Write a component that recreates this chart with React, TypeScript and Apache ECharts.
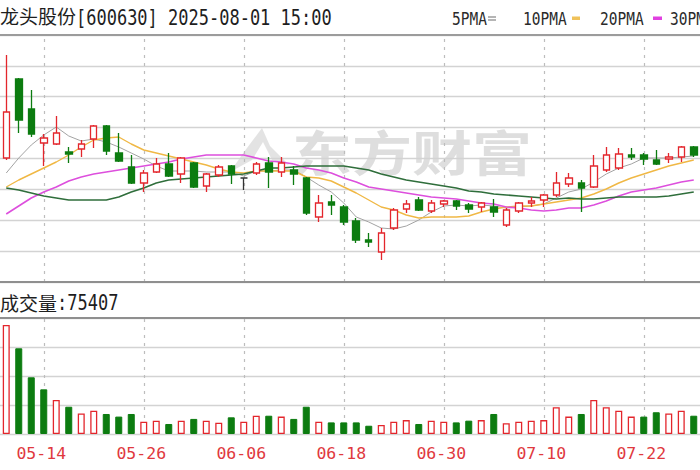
import React, { useEffect, useRef } from 'react';
import * as echarts from 'echarts';

const dates = ['05-09','05-12','05-13','05-14','05-15','05-16','05-19','05-20','05-21','05-22','05-23','05-26','05-27','05-28','05-29','05-30','06-03','06-04','06-05','06-06','06-09','06-10','06-11','06-12','06-13','06-16','06-17','06-18','06-19','06-20','06-23','06-24','06-25','06-26','06-27','06-30','07-01','07-02','07-03','07-04','07-07','07-08','07-09','07-10','07-11','07-14','07-15','07-16','07-17','07-18','07-21','07-22','07-23','07-24','07-25','07-28'];

const openP = [6.18,6.97,6.67,6.33,6.32,6.24,6.27,6.37,6.50,6.23,6.09,5.93,6.04,6.12,6.02,6.13,5.90,6.01,6.10,5.98,6.03,6.13,6.04,6.06,5.98,5.59,5.74,5.69,5.55,5.36,5.24,5.48,5.67,5.76,5.65,5.72,5.75,5.71,5.69,5.69,5.51,5.65,5.73,5.76,5.81,5.92,5.93,5.89,6.06,6.08,6.21,6.21,6.16,6.17,6.19,6.29];
const closeP = [6.64,6.56,6.42,6.38,6.43,6.22,6.32,6.50,6.25,6.15,5.93,6.03,6.12,6.00,6.18,5.89,6.02,6.09,6.02,5.98,6.12,6.04,6.13,6.02,5.63,5.73,5.71,5.54,5.36,5.34,5.43,5.66,5.72,5.66,5.73,5.75,5.70,5.67,5.73,5.64,5.66,5.73,5.75,5.81,5.93,5.98,5.88,6.10,6.21,6.22,6.19,6.17,6.12,6.19,6.29,6.21];
const lowP = [6.16,6.43,6.39,6.10,6.31,6.13,6.19,6.28,6.21,6.14,5.92,5.84,6.03,5.99,5.93,5.88,5.84,5.99,5.92,5.86,6.01,5.88,5.99,5.91,5.61,5.54,5.61,5.51,5.33,5.29,5.16,5.46,5.63,5.65,5.63,5.69,5.66,5.63,5.64,5.59,5.49,5.63,5.69,5.69,5.79,5.89,5.64,5.88,6.04,6.06,6.16,6.11,6.11,6.13,6.14,6.19];
const highP = [7.21,6.98,6.86,6.42,6.60,6.29,6.36,6.51,6.51,6.43,6.21,6.06,6.18,6.23,6.19,6.14,6.03,6.11,6.11,5.98,6.14,6.19,6.19,6.10,5.99,5.81,5.81,5.71,5.58,5.43,5.48,5.68,5.76,5.79,5.76,5.76,5.76,5.73,5.74,5.77,5.68,5.74,5.79,5.82,6.04,6.03,5.96,6.21,6.29,6.28,6.28,6.23,6.26,6.23,6.30,6.30];

const ma5 = [6.03,6.18,6.31,6.41,6.49,6.40,6.35,6.37,6.34,6.29,6.23,6.17,6.10,6.05,6.05,6.05,6.04,6.04,6.04,6.00,6.05,6.05,6.06,6.06,5.99,5.91,5.84,5.73,5.59,5.54,5.48,5.47,5.50,5.56,5.64,5.70,5.71,5.70,5.71,5.70,5.68,5.69,5.70,5.72,5.78,5.84,5.87,5.94,6.02,6.08,6.12,6.18,6.18,6.18,6.19,6.20];
const ma10 = [5.89,5.96,6.02,6.08,6.14,6.21,6.29,6.36,6.38,6.39,6.32,6.26,6.23,6.20,6.17,6.14,6.11,6.07,6.04,6.03,6.05,6.05,6.05,6.05,5.99,5.98,5.95,5.89,5.83,5.76,5.69,5.66,5.61,5.58,5.59,5.59,5.59,5.60,5.64,5.67,5.69,5.70,5.70,5.72,5.74,5.76,5.78,5.82,5.87,5.93,5.98,6.02,6.06,6.10,6.13,6.16];
const ma20 = [5.62,5.70,5.78,5.84,5.89,5.95,5.99,6.02,6.04,6.06,6.08,6.10,6.12,6.14,6.17,6.19,6.21,6.21,6.21,6.21,6.18,6.15,6.14,6.12,6.08,6.06,6.03,5.98,5.94,5.89,5.87,5.85,5.83,5.81,5.79,5.78,5.77,5.75,5.73,5.72,5.69,5.68,5.66,5.65,5.66,5.68,5.68,5.71,5.75,5.80,5.84,5.86,5.88,5.91,5.94,5.96];
const ma30 = [5.88,5.86,5.83,5.80,5.78,5.76,5.76,5.76,5.76,5.79,5.84,5.88,5.93,5.96,5.97,5.98,5.99,6.00,6.01,6.02,6.05,6.08,6.08,6.09,6.10,6.10,6.10,6.10,6.08,6.06,6.02,5.99,5.96,5.94,5.92,5.90,5.88,5.85,5.84,5.82,5.81,5.80,5.79,5.78,5.77,5.78,5.77,5.77,5.78,5.79,5.79,5.79,5.79,5.80,5.82,5.84];

const volume = [376000,295500,195500,154000,117000,94000,71000,80000,69000,60000,69000,42000,46000,34500,46000,52000,46000,39000,57500,42500,63000,63000,60000,52000,94000,42500,40000,40000,40000,28500,31000,42500,48000,34500,46000,42500,40000,46000,48000,69000,37000,42500,46000,48000,92000,60000,69000,117000,92000,80000,60000,60000,75000,71000,80000,63000];
const volUp = [1,0,0,0,1,0,1,1,0,0,0,1,1,0,1,0,1,1,0,1,1,0,1,0,0,1,0,0,0,0,1,1,1,0,1,1,0,0,1,0,1,1,1,1,1,1,0,1,1,1,1,0,0,1,1,0];

const tickDates = ['05-14','05-26','06-06','06-18','06-30','07-10','07-22'];
const lastVolumeText = '75407';

const RED = '#e3262c';
const GREEN = '#0c7c10';
const MONO = "'DejaVu Sans Mono', monospace";
const CJK = "'Noto Sans CJK SC', sans-serif";

export default function App() {
  const ref = useRef<HTMLDivElement>(null);

  useEffect(() => {
    const chart = echarts.init(ref.current as HTMLDivElement, null, { renderer: 'svg' });

    const candleData = dates.map((_, i) => {
      const item: any = { value: [openP[i], closeP[i], lowP[i], highP[i]] };
      if (openP[i] === closeP[i]) {
        item.itemStyle = { color: '#333', color0: '#333', borderColor: '#333', borderColor0: '#333' };
      }
      return item;
    });

    const volData = volume.map((v, i) => ({
      value: v,
      itemStyle: volUp[i]
        ? { color: '#ffffff', borderColor: RED, borderWidth: 1.3 }
        : { color: GREEN, borderColor: GREEN, borderWidth: 1 },
    }));

    const vLines = {
      silent: true,
      symbol: ['none', 'none'],
      label: { show: false },
      z: 1,
      lineStyle: { color: '#bdbdbd', type: [3, 5], width: 1.2 },
      emphasis: { disabled: true },
      data: tickDates.map((d) => ({ xAxis: d })),
    };

    const maSeries = (name: string, data: number[], color: string, width: number) => ({
      name,
      type: 'line',
      xAxisIndex: 0,
      yAxisIndex: 0,
      data,
      symbol: 'none',
      showSymbol: false,
      smooth: false,
      z: 3,
      lineStyle: { color, width },
      itemStyle: { color },
    });

    const option: any = {
      animation: false,
      backgroundColor: '#ffffff',
      grid: [
        { left: -5.6, width: 714, top: 35, height: 247 },
        { left: -5.6, width: 714, top: 318, height: 116 },
      ],
      xAxis: [
        {
          type: 'category', gridIndex: 0, data: dates, boundaryGap: true,
          axisLine: { show: false }, axisTick: { show: false }, axisLabel: { show: false }, splitLine: { show: false },
        },
        {
          type: 'category', gridIndex: 1, data: dates, boundaryGap: true,
          axisLine: { show: false }, axisTick: { show: false }, splitLine: { show: false },
          axisLabel: {
            interval: (_i: number, v: string) => tickDates.includes(v),
            color: '#e0393e', fontFamily: MONO, fontSize: 16.5, margin: 11, padding: [0, 5, 0, 0],
          },
        },
      ],
      yAxis: [
        {
          type: 'value', gridIndex: 0, min: 4.94, max: 7.41, interval: 0.30875, scale: false,
          axisLine: { show: false }, axisTick: { show: false }, axisLabel: { show: false },
          splitLine: { show: true, lineStyle: { color: '#d3d3d3', width: 1.4 } },
        },
        {
          type: 'value', gridIndex: 1, min: 0, max: 400000, interval: 100000,
          axisLine: { show: false }, axisTick: { show: false }, axisLabel: { show: false },
          splitLine: { show: true, lineStyle: { color: '#d3d3d3', width: 1.4 } },
        },
      ],
      series: [
        {
          name: 'K', type: 'candlestick', xAxisIndex: 0, yAxisIndex: 0, data: candleData,
          barWidth: 7, z: 4,
          itemStyle: { color: '#ffffff', color0: GREEN, borderColor: RED, borderColor0: GREEN, borderWidth: 1.3 },
          markLine: vLines,
        },
        maSeries('MA5', ma5, '#a3a3a3', 1),
        maSeries('MA10', ma10, '#f0b845', 1.4),
        maSeries('MA20', ma20, '#dd4fdd', 1.6),
        maSeries('MA30', ma30, '#2f6e3b', 1.6),
        {
          name: 'VOL', type: 'bar', xAxisIndex: 1, yAxisIndex: 1, data: volData, barWidth: 7, z: 4,
          markLine: vLines,
        },
      ],
      graphic: [
        // watermark
        {
          type: 'polygon', z: 0, silent: true,
          shape: { points: [[230, 172], [244, 152], [262, 128], [270, 146], [289, 165], [272, 160], [263, 142], [252, 160]] },
          style: { fill: 'rgba(200,200,200,0.5)' },
        },
        {
          type: 'text', z: 0, silent: true, x: 292, y: 150, scaleY: 0.8,
          style: { text: '东方财富', fontSize: 60, fontFamily: CJK, fontWeight: 'bold', fill: 'rgba(195,195,195,0.55)', verticalAlign: 'middle', align: 'left' },
        },
        // borders
        { type: 'line', z: 10, shape: { x1: 0, y1: 35, x2: 700, y2: 35 }, style: { stroke: '#9c9c9c', lineWidth: 2 } },
        { type: 'line', z: 10, shape: { x1: 0, y1: 282, x2: 700, y2: 282 }, style: { stroke: '#8f8f8f', lineWidth: 2 } },
        { type: 'line', z: 10, shape: { x1: 0, y1: 318, x2: 700, y2: 318 }, style: { stroke: '#8f8f8f', lineWidth: 2 } },
        // title
        {
          type: 'text', x: 0, y: 15,
          style: { text: '龙头股份', fontSize: 19, fontFamily: CJK, fill: '#1e1e1e', verticalAlign: 'middle', align: 'left' },
        },
        {
          type: 'text', x: 76, y: 17.5, scaleY: 1.2,
          style: { text: '[600630] 2025-08-01 15:00', fontSize: 17, fontFamily: MONO, fill: '#1e1e1e', verticalAlign: 'middle', align: 'left' },
        },
        // legend
        { type: 'text', x: 452, y: 19.5, scaleY: 1.2, style: { text: '5PMA', fontSize: 14.5, fontFamily: MONO, fill: '#2a2a2a', verticalAlign: 'middle' } },
        { type: 'rect', shape: { x: 488, y: 16, width: 8, height: 2 }, style: { fill: '#b5b5b5' } },
        { type: 'rect', shape: { x: 488, y: 19, width: 8, height: 2 }, style: { fill: '#b5b5b5' } },
        { type: 'text', x: 523, y: 19.5, scaleY: 1.2, style: { text: '10PMA', fontSize: 14.5, fontFamily: MONO, fill: '#2a2a2a', verticalAlign: 'middle' } },
        { type: 'rect', shape: { x: 572, y: 16.5, width: 8, height: 3.5 }, style: { fill: '#f0c25a' } },
        { type: 'text', x: 600, y: 19.5, scaleY: 1.2, style: { text: '20PMA', fontSize: 14.5, fontFamily: MONO, fill: '#2a2a2a', verticalAlign: 'middle' } },
        { type: 'rect', shape: { x: 653, y: 16.5, width: 9, height: 3.5 }, style: { fill: '#e040e0' } },
        { type: 'text', x: 670, y: 19.5, scaleY: 1.2, style: { text: '30PMA', fontSize: 14.5, fontFamily: MONO, fill: '#2a2a2a', verticalAlign: 'middle' } },
        // volume label
        {
          type: 'text', x: 0, y: 302,
          style: { text: '成交量', fontSize: 19, fontFamily: CJK, fill: '#1e1e1e', verticalAlign: 'middle', align: 'left' },
        },
        {
          type: 'text', x: 57, y: 303, scaleY: 1.2,
          style: { text: ':' + lastVolumeText, fontSize: 17, fontFamily: MONO, fill: '#1e1e1e', verticalAlign: 'middle', align: 'left' },
        },
      ],
    };

    chart.setOption(option);
    return () => chart.dispose();
  }, []);

  return <div ref={ref} style={{ position: 'absolute', left: 0, top: 0, width: 700, height: 470 }} />;
}
